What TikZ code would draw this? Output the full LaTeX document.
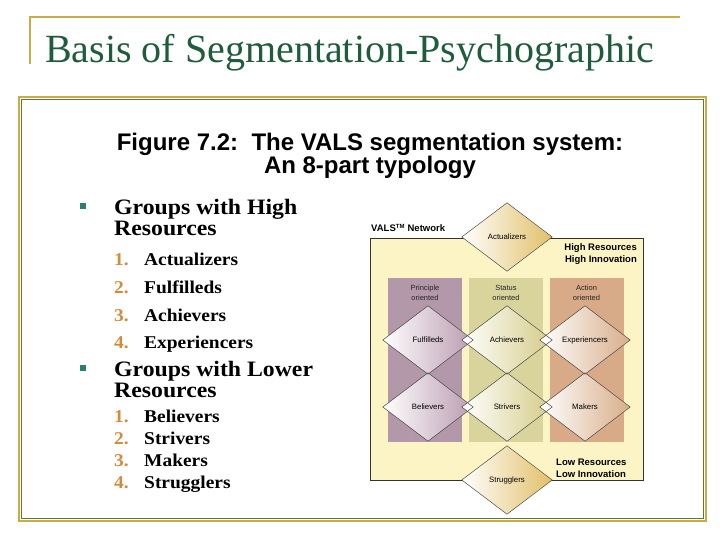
\documentclass[tikz,border=0pt]{standalone}
\usepackage{fontspec}
\setmainfont{Liberation Serif}
\setsansfont{Liberation Sans}
\newfontfamily\slideserif[FakeStretch=1.08]{Liberation Serif}
\usepackage{tikz}
\usetikzlibrary{
    shapes.geometric,
    positioning,
}
\definecolor{goldLine}{RGB}{200,172,72}
\definecolor{oliveLine}{RGB}{104,118,44}
\definecolor{titleGreen}{RGB}{30,92,60}
\definecolor{bulletTeal}{RGB}{40,128,110}
\definecolor{numOrange}{RGB}{212,140,60}
\definecolor{netYellow}{RGB}{252,244,196}
\definecolor{colPrinciple}{RGB}{178,152,168}
\definecolor{colStatus}{RGB}{216,212,156}
\definecolor{colAction}{RGB}{216,170,136}
\definecolor{dActual}{RGB}{226,192,104}
\definecolor{dPrinciple}{RGB}{186,156,176}
\definecolor{dStatus}{RGB}{212,204,136}
\definecolor{dAction}{RGB}{216,174,138}

\begin{document}
\begin{tikzpicture}[x=1pt,y=-1pt]

    \tikzstyle{commonText}=[inner sep=0pt, anchor=base west]
    \tikzstyle{figHead}=[inner sep=0pt, anchor=base, font=\sffamily\bfseries\fontsize{24}{26}\selectfont]
    \tikzstyle{groupHead}=[commonText, align=left, font=\slideserif\bfseries\fontsize{22}{21}\selectfont]
    \tikzstyle{itemNum}=[commonText, text=numOrange, font=\slideserif\bfseries\fontsize{18}{20}\selectfont]
    \tikzstyle{itemText}=[commonText, font=\slideserif\bfseries\fontsize{18}{20}\selectfont]
    \tikzstyle{bulletSq}=[rectangle, fill=bulletTeal, minimum size=6pt, inner sep=0pt]
    \tikzstyle{column}=[rectangle, inner sep=0pt, minimum width=74pt, minimum height=164pt]
    \tikzstyle{colLabel}=[inner sep=0pt, align=center, text=black!85, font=\sffamily\fontsize{7.5}{10.5}\selectfont]
    \tikzstyle{segment}=[diamond, inner sep=0pt, minimum width=90pt, minimum height=68pt, font=\sffamily\fontsize{7.8}{9}\selectfont]
    \tikzstyle{netLabel}=[inner sep=0pt, font=\sffamily\bfseries\fontsize{9.5}{11}\selectfont]

    \useasboundingbox (0,0) rectangle (720,540);
    \fill[white] (0,0) rectangle (720,540);

    % Title
    \draw[goldLine, line width=1.5pt] (680,17) -- (30,17) -- (30,64);
    \node at (45,63) [commonText, text=titleGreen, font=\fontsize{40}{42}\selectfont] (title) {Basis of Segmentation-Psychographic};

    % Picture frame
    \draw[goldLine, line width=2pt] (19,97) rectangle (706,521);
    \draw[oliveLine, line width=1.5pt] (21.5,99.5) rectangle (703.5,518.5);

    % Figure heading
    \node at (370,151) [figHead] (figLine1) {Figure 7.2:\ \ The VALS segmentation system:};
    \node at (370,174) [figHead] (figLine2) {An 8-part typology};

    % High resources list (base = last line)
    \node at (83,206) [bulletSq] (bulletHigh) {};
    \node at (114,236) [groupHead] (groupHigh) {Groups with High\\Resources};
    \node at (114,265) [itemNum] (numA) {1.};
    \node at (144,265) [itemText] (itemA) {Actualizers};
    \node at (114,293) [itemNum] (numB) {2.};
    \node at (144,293) [itemText] (itemB) {Fulfilleds};
    \node at (114,321) [itemNum] (numC) {3.};
    \node at (144,321) [itemText] (itemC) {Achievers};
    \node at (114,348) [itemNum] (numD) {4.};
    \node at (144,348) [itemText] (itemD) {Experiencers};

    % Lower resources list
    \node at (83,368) [bulletSq] (bulletLow) {};
    \node at (114,397) [groupHead] (groupLow) {Groups with Lower\\Resources};
    \node at (114,422) [itemNum] (numE) {1.};
    \node at (144,422) [itemText] (itemE) {Believers};
    \node at (114,444) [itemNum] (numF) {2.};
    \node at (144,444) [itemText] (itemF) {Strivers};
    \node at (114,466) [itemNum] (numG) {3.};
    \node at (144,466) [itemText] (itemG) {Makers};
    \node at (114,488) [itemNum] (numH) {4.};
    \node at (144,488) [itemText] (itemH) {Strugglers};

    % VALS network
    \node at (506.5,359) [rectangle, draw=black!80, line width=0.6pt, fill=netYellow, minimum width=273pt, minimum height=242pt] (net) {};
    \node at (371,232) [netLabel, anchor=base west] (netTitle) {VALS\textsuperscript{\fontsize{6}{6}\selectfont TM} Network};
    \node at (637,250) [netLabel, anchor=base east] (highRes) {High Resources};
    \node at (637,262) [netLabel, anchor=base east] (highInno) {High Innovation};
    \node at (556,465) [netLabel, anchor=base west] (lowRes) {Low Resources};
    \node at (556,477) [netLabel, anchor=base west] (lowInno) {Low Innovation};

    \node at (425,360) [column, fill=colPrinciple] (principle) {};
    \node at (506,360) [column, fill=colStatus] (status) {};
    \node at (586.5,360) [column, fill=colAction] (action) {};
    \node at (425,293) [colLabel] (principleLbl) {Principle\\oriented};
    \node at (506,293) [colLabel] (statusLbl) {Status\\oriented};
    \node at (586.5,293) [colLabel] (actionLbl) {Action\\oriented};

    \node at (507,237) [segment, left color=white, right color=dActual] (actualizers) {Actualizers};
    \node at (428,340) [segment, left color=white, right color=dPrinciple] (fulfilleds) {Fulfilleds};
    \node at (507,340) [segment, left color=white, right color=dStatus] (achievers) {Achievers};
    \node at (585,340) [segment, left color=white, right color=dAction] (experiencers) {Experiencers};
    \node at (428,407) [segment, left color=white, right color=dPrinciple] (believers) {Believers};
    \node at (507,407) [segment, left color=white, right color=dStatus] (strivers) {Strivers};
    \node at (585,407) [segment, left color=white, right color=dAction] (makers) {Makers};
    \node at (507,480) [segment, left color=white, right color=dActual] (strugglers) {Strugglers};

    % Outlines last, so the overlaps show
    \foreach \n in {actualizers,fulfilleds,achievers,experiencers,believers,strivers,makers,strugglers}
        \draw[black!70, line width=0.5pt] (\n.north) -- (\n.east) -- (\n.south) -- (\n.west) -- cycle;

\end{tikzpicture}
\end{document}
